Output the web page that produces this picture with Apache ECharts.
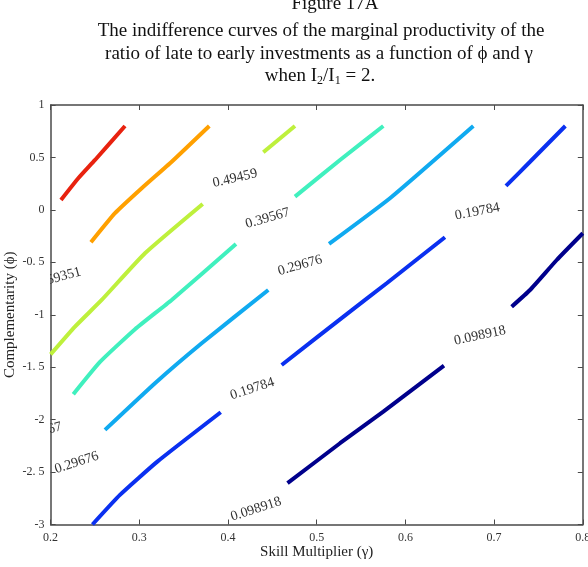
<!DOCTYPE html>
<html>
<head>
<meta charset="utf-8">
<title>Figure 17A</title>
<script src="https://cdn.jsdelivr.net/npm/echarts@6/dist/echarts.min.js"></script>
<style>
    html, body { margin: 0; padding: 0; background: #fff; }
    #chart-main { width: 588px; height: 567px; }
</style>
</head>
<body>
<div id="chart-main"></div>
<script>
    'use strict';

    // axis ticks
    var xTicks = [0.2, 0.3, 0.4, 0.5, 0.6, 0.7, 0.8];
    var yTicks = [-3, -2.5, -2, -1.5, -1, -0.5, 0, 0.5, 1];
    var yTickLabels = ['-3', '-2. 5', '-2', '-1. 5', '-1', '-0. 5', '0', '0.5', '1'];

    // contour levels, one entry per colour
    var levels = [0.69243, 0.59351, 0.49459, 0.39567, 0.29676, 0.19784, 0.098918];

    // contour pieces [gamma, phi]
    var red1 = [[0.2117, 0.094], [0.2312, 0.301], [0.2501, 0.476], [0.2839, 0.800]];
    var orange1 = [[0.2455, -0.309], [0.2726, -0.032], [0.3027, 0.206], [0.3365, 0.459], [0.3789, 0.800]];
    var yellow1 = [[0.2, -1.378], [0.2275, -1.113], [0.2576, -0.859], [0.3064, -0.414], [0.3715, 0.056]];
    var yellow2 = [[0.4398, 0.549], [0.4755, 0.800]];
    var aqua1 = [[0.2256, -1.758], [0.2557, -1.450], [0.2952, -1.138], [0.3365, -0.859], [0.4090, -0.325]];
    var aqua2 = [[0.4755, 0.126], [0.5263, 0.476], [0.5751, 0.800]];
    var sky1 = [[0.2613, -2.098], [0.3177, -1.653], [0.3703, -1.272], [0.4454, -0.764]];
    var sky2 = [[0.5139, -0.325], [0.5826, 0.111], [0.6766, 0.800]];
    var blue1 = [[0.2472, -3.0], [0.2782, -2.718], [0.3200, -2.403], [0.3918, -1.930]];
    var blue2 = [[0.4605, -1.479], [0.5375, -0.970], [0.5789, -0.700], [0.6446, -0.261]];
    var blue3 = [[0.7134, 0.228], [0.7405, 0.459], [0.7803, 0.800]];
    var navy1 = [[0.4671, -2.606], [0.5263, -2.225], [0.5751, -1.924], [0.6435, -1.485]];
    var navy2 = [[0.7198, -0.923], [0.7405, -0.764], [0.7706, -0.478], [0.8, -0.223]];

    // in-line labels
    var labelPoints = [[0.4079, 0.301], [0.4447, -0.080], [0.4812, -0.530], [0.6811, -0.017], [0.6841, -1.199],
        [0.4274, -1.707], [0.4316, -2.854], [0.2294, -2.410], [0.1877, -2.121], [0.2092, -0.645]];
    var labelTexts = ['0.49459', '0.39567', '0.29676', '0.19784', '0.098918',
        '0.19784', '0.098918', '0.29676', '0.39567', '0.59351'];
    var labelAngles = [13, 16, 16, 11, 12, 18, 18, 18, 15, 15];

    var colors = ['#e8220f', '#ffa000', '#bef03c', '#40f0be', '#10aaf0', '#0a30f0', '#00008c'];
    var pieces = [
        {level: 0, data: red1}, {level: 1, data: orange1},
        {level: 2, data: yellow1}, {level: 2, data: yellow2},
        {level: 3, data: aqua1}, {level: 3, data: aqua2},
        {level: 4, data: sky1}, {level: 4, data: sky2},
        {level: 5, data: blue1}, {level: 5, data: blue2}, {level: 5, data: blue3},
        {level: 6, data: navy1}, {level: 6, data: navy2}
    ];

    var serif = '"Liberation Serif", "Times New Roman", serif';
    var axisColor = '#4a4a4a';

    var series = pieces.map(function (p) {
        return {
            name: String(levels[p.level]),
            type: 'line',
            data: p.data,
            smooth: 0.15,
            symbol: 'none',
            clip: true,
            lineStyle: {color: colors[p.level], width: 4}
        };
    });

    series.push({
        type: 'custom',
        clip: true,
        data: labelPoints,
        renderItem: function (params, api) {
            var pt = api.coord([api.value(0), api.value(1)]);
            var i = params.dataIndex;
            return {
                type: 'text',
                x: pt[0],
                y: pt[1],
                rotation: labelAngles[i] * Math.PI / 180,
                style: {
                    text: labelTexts[i],
                    font: '14px ' + serif,
                    fill: '#333',
                    align: 'center',
                    verticalAlign: 'middle'
                }
            };
        }
    });

    var baseX = {
        type: 'value', min: 0.2, max: 0.8, interval: 0.1,
        axisLine: {show: true, onZero: false, lineStyle: {color: axisColor, width: 1.5}},
        axisTick: {show: true, inside: true, length: 5, lineStyle: {color: axisColor}},
        splitLine: {show: false}
    };
    var baseY = {
        type: 'value', min: -3, max: 1, interval: 0.5,
        axisLine: {show: true, onZero: false, lineStyle: {color: axisColor, width: 1.5}},
        axisTick: {show: true, inside: true, length: 5, lineStyle: {color: axisColor}},
        splitLine: {show: false}
    };

    var option = {
        animation: false,
        backgroundColor: '#fff',
        grid: {left: 50.6, right: 5.2, top: 105, bottom: 42.5, containLabel: false, outerBoundsMode: 'none'},
        xAxis: [
            Object.assign({}, baseX, {
                position: 'bottom',
                name: 'Skill Multiplier (\u03b3)',
                nameLocation: 'middle',
                nameGap: 20,
                nameMoveOverlap: false,
                nameTextStyle: {fontFamily: serif, fontSize: 15, color: '#222'},
                axisLabel: {
                    margin: 7, fontFamily: serif, fontSize: 12, color: '#333',
                    formatter: function (v) {
                        var i = xTicks.indexOf(Math.round(v * 10) / 10);
                        return i < 0 ? '' : String(xTicks[i]);
                    }
                }
            }),
            Object.assign({}, baseX, {position: 'top', axisLabel: {show: false}})
        ],
        yAxis: [
            Object.assign({}, baseY, {
                position: 'left',
                name: 'Complementarity (\u03d5)',
                nameLocation: 'middle',
                nameGap: 33,
                nameMoveOverlap: false,
                nameTextStyle: {fontFamily: serif, fontSize: 15, color: '#222'},
                axisLabel: {
                    margin: 6, fontFamily: serif, fontSize: 12, color: '#333',
                    formatter: function (v) {
                        var i = yTicks.indexOf(Math.round(v * 2) / 2);
                        return i < 0 ? '' : yTickLabels[i];
                    }
                }
            }),
            Object.assign({}, baseY, {position: 'right', axisLabel: {show: false}})
        ],
        graphic: [
            {type: 'text', x: 335, y: 4, style: {text: 'Figure 17A', font: '19px ' + serif, fill: '#111', align: 'center', verticalAlign: 'middle'}},
            {type: 'text', x: 321, y: 31, style: {text: 'The indifference curves of the marginal productivity of the', font: '19px ' + serif, fill: '#111', align: 'center', verticalAlign: 'middle'}},
            {type: 'text', x: 319, y: 54, style: {text: 'ratio of late to early investments as a function of \u03d5 and \u03b3', font: '19px ' + serif, fill: '#111', align: 'center', verticalAlign: 'middle'}},
            {type: 'text', x: 320, y: 76, style: {
                text: '{n|when I}{s|2}{n|/I}{s|1}{n| = 2.}',
                align: 'center', verticalAlign: 'middle',
                rich: {
                    n: {fontFamily: serif, fontSize: 19, lineHeight: 22, fill: '#111'},
                    s: {fontFamily: serif, fontSize: 12, lineHeight: 22, fill: '#111', verticalAlign: 'bottom'}
                }
            }}
        ],
        series: series
    };

    var myChart = echarts.init(document.getElementById('chart-main'));
    myChart.setOption(option);
</script>
</body>
</html>
